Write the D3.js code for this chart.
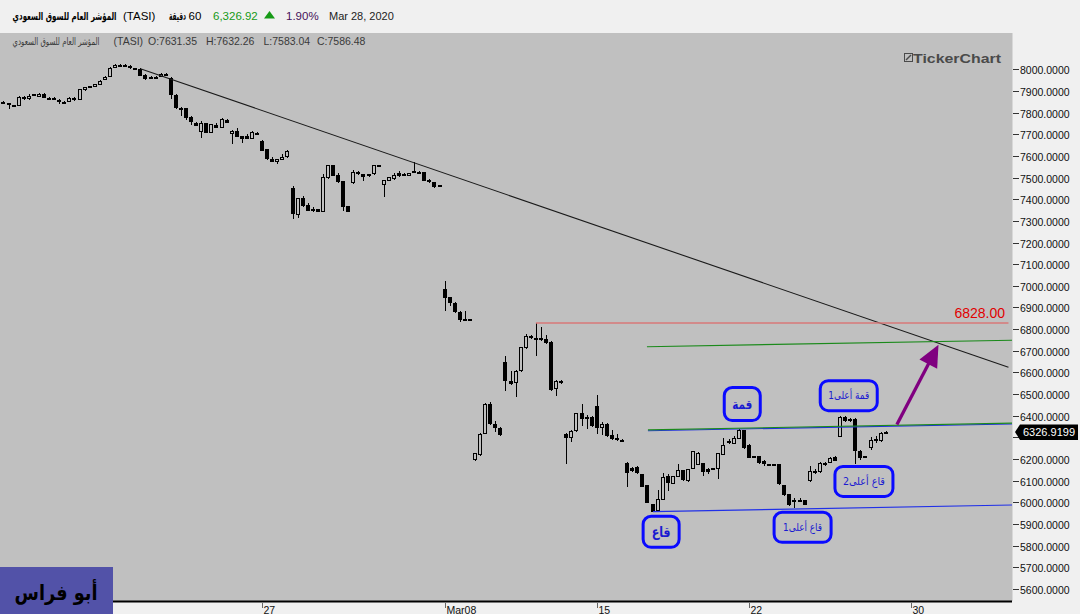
<!DOCTYPE html>
<html><head><meta charset="utf-8">
<script src="https://cdn.jsdelivr.net/npm/d3@7"></script>
<style>body{margin:0;background:#f0f0f0;overflow:hidden}svg{display:block}</style>
</head><body><svg id="c" width="1080" height="614"></svg>
<script>
// ---- data (60-minute bars, TASI) ----
const open = [7848,7845,7836,7831,7874,7863,7884,7872,7888,7868,7867,7860,7851,7849,7869,7860,7906,7923,7920,7929,
7951,7965,8006,8021,8021,8017,8006,8003,7972,7955,7966,7966,7980,7962,7883,7822,7819,7780,7754,7711,
7750,7708,7745,7731,7768,7702,7717,7691,7690,7680,7708,7670,7631.35,7585,7573,7582,7593,7450,7327,7404,
7375,7355,7355,7343,7499,7558,7512,7484,7369,7473,7525,7515,7505,7515,7558,7464,7485,7495,7519,7518,
7509,7531,7528,7524,7490,7479,7466,6986,6948,6922,6880,6846,6846,6195,6221,6317,6455,6360,6344,6648,
6562,6552,6605,6711,6770,6760,6760,6754,6742,6522,6562,6318,6298,6329,6413,6384,6396,6443,6343,6364,
6310,6297,6290,6183,6161,6165,6129,6078,5992,5959,6011,6123,6086,6118,6149,6097,6155,6173,6180,6155,
6152,6152,6221,6284,6270,6293,6333,6267,6213,6213,6192,6175,6175,6175,6078,6038,6009,6010,6010,6098,
6143,6139,6183,6183,6210,6303,6396,6375,6386,6237,6213,6252,6293,6283,6323];
const high = [7852,7846,7837,7877,7876,7885,7886,7892,7890,7872,7870,7862,7852,7870,7870,7910,7920,7925,7932,7950,
7967,8010,8026,8023,8023,8021,8007,8005,7977,7968,7967,7984,7981,7964,7885,7824,7821,7783,7756,7762,
7752,7748,7750,7774,7770,7719,7728,7693,7703,7714,7709,7672,7632.26,7596,7586,7607,7627,7461,7405,7415,
7381,7366,7357,7516,7560,7560,7522,7486,7371,7535,7532,7517,7518,7560,7559,7490,7503,7519,7530,7520,
7523,7570,7530,7526,7492,7481,7467,7023,6950,6924,6882,6885,6848,6228,6322,6457,6463,6378,6346,6677,
6608,6610,6719,6779,6772,6828,6811,6774,6744,6567,6564,6320,6332,6415,6456,6403,6398,6498,6373,6366,
6332,6318,6291,6185,6163,6167,6131,6080,5994,6055,6137,6129,6124,6178,6151,6154,6236,6231,6182,6157,
6159,6228,6297,6294,6306,6341,6335,6269,6215,6215,6194,6176,6176,6177,6080,6040,6021,6019,6012,6170,
6152,6187,6185,6209,6212,6398,6398,6388,6388,6241,6215,6303,6306,6323,6328];
const low = [7840,7816,7832,7829,7860,7860,7880,7870,7866,7860,7858,7840,7846,7847,7853,7858,7898,7918,7918,7927,
7949,7963,8004,8018,8018,8003,8003,7971,7950,7953,7954,7964,7973,7863,7817,7783,7765,7745,7737,7684,
7706,7706,7727,7729,7751,7653,7686,7660,7676,7678,7703,7622,7583.04,7571,7561,7580,7591,7310,7312,7366,
7344,7340,7340,7341,7495,7506,7476,7346,7341,7471,7513,7485,7503,7513,7551,7412,7483,7488,7503,7508,
7507,7519,7519,7483,7476,7453,7456,6882,6905,6875,6831,6838,6838,6193,6216,6315,6357,6324,6308,6513,
6544,6486,6603,6709,6755,6677,6744,6732,6516,6490,6548,6177,6278,6327,6352,6337,6350,6318,6310,6304,
6290,6285,6282,6072,6141,6129,6070,5997,5954,5956,6009,6051,6084,6116,6098,6095,6152,6171,6124,6129,
6150,6106,6219,6270,6268,6291,6247,6204,6203,6178,6170,6169,6169,6081,6030,5983,5976,6003,5987,6096,
6132,6137,6170,6181,6190,6301,6373,6373,6175,6198,6208,6244,6275,6281,6320];
const close = [7842,7834,7834,7874,7865,7879,7882,7888,7868,7862,7861,7849,7848,7868,7856,7908,7918,7920,7930,7948,
7965,8008,8021,8019,8019,8008,8004,7971,7954,7966,7960,7980,7974,7883,7819,7814,7773,7757,7739,7750,
7708,7746,7731,7770,7753,7717,7688,7680,7678,7710,7705,7624,7586.48,7573,7584,7593,7624,7330,7404,7369,
7346,7346,7343,7501,7558,7508,7481,7366,7343,7524,7515,7504,7516,7558,7552,7487,7501,7511,7508,7509,
7521,7522,7522,7485,7478,7455,7458,6942,6920,6877,6840,6840,6840,6226,6318,6455,6360,6343,6310,6559,
6547,6608,6717,6770,6757,6754,6751,6734,6518,6561,6550,6296,6330,6413,6384,6396,6352,6343,6364,6306,
6292,6287,6283,6137,6143,6134,6072,5999,5956,6014,6118,6088,6122,6149,6103,6152,6235,6229,6140,6140,
6158,6226,6264,6272,6298,6336,6249,6206,6205,6180,6175,6171,6171,6083,6032,5986,6005,6005,5989,6144,
6139,6183,6172,6207,6192,6396,6375,6386,6237,6206,6210,6290,6286,6321,6326.92];

const yTickValues = [5600,5700,5800,5900,6000,6100,6200,6300,6400,6500,6600,6700,6800,6900,7000,7100,7200,7300,7400,7500,7600,7700,7800,7900,8000];
const xTickIndex = [51,87,117,147,179];
const xTickLabels = ["27","Mar08","15","22","30"];

const lastPrice = 6326.9199;
const resistance = 6828;
const trendLine = [[27,8003],[198.2,6624]];
const greenUpper = [[126.9,6719],[198.9,6749]];
const channelTopBlue = [[127.1,6331],[198.9,6362]];
const channelTopGreen = [[127.1,6335],[198.9,6366]];
const channelBottom = [[128.1,5957],[198.9,5988]];
const arrowPts = [[176.2,6360],[184.4,6728]];
const annoLabels = ["قمة","قمة أعلى1","قاع","قاع أعلى1","قاع أعلى2"];
const annoIndex = [145.7,166.7,129.7,157.6,169.7];
const annoValue = [6454,6493,5864,5885,6097];
// box / text sizes in px (style)
const annoStyle = [
  {w:36,h:33,fs:13,bold:true,tl:20},
  {w:57,h:30,fs:11,bold:false,tl:41},
  {w:36,h:31,fs:14,bold:true,tl:19},
  {w:57,h:30,fs:11,bold:false,tl:39},
  {w:58,h:30,fs:11,bold:false,tl:42}
];

// ---- layout ----
const svg = d3.select("#c");
const PL = 0, PR = 1012.5, PT = 33, PB = 601;
const x = d3.scaleLinear().domain([-0.69, 198.9]).range([PL, 1012]);
const y = d3.scaleLinear().domain([5600, 8000]).range([589.0, 69.3]);
const font = "'Liberation Sans', Arial, sans-serif";
const afont = "'DejaVu Sans', 'Noto Sans', sans-serif";

// Arabic text fitted horizontally to a target width (DejaVu Arabic is wider than Tahoma)
function arText(cx, yy, txt, size, width, bold, fill){
  const g = svg.append("g");
  const t = g.append("text").attr("x",0).attr("y",0).attr("text-anchor","middle")
    .attr("font-family",afont).attr("font-size",size).attr("font-weight",bold?"bold":"normal")
    .attr("fill",fill).text(txt);
  const w = t.node().getComputedTextLength() || width;
  g.attr("transform",`translate(${cx},${yy}) scale(${width/w},1)`);
  return t;
}

svg.append("rect").attr("width",1080).attr("height",614).attr("fill","#f0f0f0");
svg.append("rect").attr("x",PL).attr("y",PT).attr("width",PR-PL).attr("height",PB-PT).attr("fill","#c0c0c0");

// header
const hy = 19.5;
arText(64.5, hy, "المؤشر العام للسوق السعودي", 11, 104, true, "#000");
svg.append("text").attr("x",123).attr("y",hy).attr("font-family",font).attr("font-size",11.5).attr("fill","#000").text("(TASI)");
arText(177.5, hy, "دقيقة", 11, 17, true, "#000");
svg.append("text").attr("x",188.5).attr("y",hy).attr("font-family",font).attr("font-size",11.5).attr("fill","#000").text("60");
svg.append("text").attr("x",213).attr("y",hy).attr("font-family",font).attr("font-size",11.5).attr("fill","#169a16").text("6,326.92");
svg.append("path").attr("d","M264,18.5 L269.5,11 L275,18.5 Z").attr("fill","#169a16");
svg.append("text").attr("x",286).attr("y",hy).attr("font-family",font).attr("font-size",11.5).attr("fill","#45105a").text("1.90%");
svg.append("text").attr("x",329).attr("y",hy).attr("font-family",font).attr("font-size",11).attr("fill","#222").text("Mar 28, 2020");

// sub header (OHLC of hovered bar)
const sy = 44.5, sc = "#3a3a3a";
arText(56, sy, "المؤشر العام للسوق السعودي", 10, 87, false, sc);
svg.append("text").attr("x",113.5).attr("y",sy).attr("font-family",font).attr("font-size",10.5).attr("fill",sc).text("(TASI)");
[["O:",open[52]],["H:",high[52]],["L:",low[52]],["C:",close[52]]].forEach((p,k)=>{
  svg.append("text").attr("x",[148,206,263.5,317][k]).attr("y",sy).attr("font-family",font)
    .attr("font-size",10.5).attr("fill",sc).text(p[0]+d3.format(".2f")(p[1]));
});

// watermark
svg.append("rect").attr("x",904.5).attr("y",53.5).attr("width",8).attr("height",8).attr("fill","none").attr("stroke","#4a4a4a");
svg.append("path").attr("d","M906,60 L911,55").attr("stroke","#4a4a4a").attr("stroke-width",1.5);
svg.append("text").attr("x",913).attr("y",62.5).attr("font-family",font).attr("font-size",13.5).attr("font-weight","bold")
  .attr("fill","#4a4a4a").attr("textLength",88).attr("lengthAdjust","spacingAndGlyphs").text("TickerChart");

// y axis
const lyTag = Math.round(y(lastPrice));
const ya = svg.append("g");
yTickValues.forEach(v=>{
  const yy = Math.round(y(v))+0.5;
  ya.append("line").attr("x1",1013).attr("x2",1019).attr("y1",yy).attr("y2",yy).attr("stroke","#333");
  if (Math.abs(yy - lyTag) < 10) return; // hidden behind last-price tag
  ya.append("text").attr("x",1020).attr("y",yy+4).attr("font-family",font).attr("font-size",10.5).attr("fill","#111")
    .text(d3.format(".4f")(v));
});

// x axis
svg.append("line").attr("x1",0).attr("x2",1012).attr("y1",601.5).attr("y2",601.5).attr("stroke","#000").attr("stroke-width",2);
xTickIndex.forEach((ix,k)=>{
  const xx = Math.round(x(ix))+0.5;
  svg.append("line").attr("x1",xx).attr("x2",xx).attr("y1",603).attr("y2",608).attr("stroke","#666");
  svg.append("text").attr("x",xx+1).attr("y",613.5).attr("font-family",font).attr("font-size",10.5).attr("fill","#111").text(xTickLabels[k]);
});

// candles
const data = open.map((o,i)=>({i,o,h:high[i],l:low[i],c:close[i]}));
const cg = svg.append("g").attr("shape-rendering","crispEdges");
cg.selectAll("line.w").data(data).join("line").attr("class","w")
  .attr("x1",d=>Math.round(x(d.i))+0.5).attr("x2",d=>Math.round(x(d.i))+0.5)
  .attr("y1",d=>y(d.h)).attr("y2",d=>y(d.l)).attr("stroke","#000");
cg.selectAll("rect.b").data(data).join("rect").attr("class","b")
  .each(function(d){
    const X = Math.round(x(d.i));
    const top = Math.round(y(Math.max(d.o,d.c))), bot = Math.round(y(Math.min(d.o,d.c)));
    const hh = Math.max(bot-top, 2);
    const s = d3.select(this);
    if (d.c > d.o) {
      s.attr("x",X-1.5).attr("y",top+0.5).attr("width",3).attr("height",Math.max(hh-1,1))
       .attr("fill","#c0c0c0").attr("stroke","#000");
    } else {
      s.attr("x",X-2).attr("y",top).attr("width",4).attr("height",hh).attr("fill","#000");
    }
  });

// drawn lines
const ln = d3.line().x(d=>x(d[0])).y(d=>y(d[1]));
svg.append("path").attr("d",ln(trendLine)).attr("stroke","#1a1a1a").attr("stroke-width",1.1).attr("fill","none");
svg.append("path").attr("d",ln([[105,resistance],[198.2,resistance]])).attr("stroke","#d87878").attr("stroke-width",1.5).attr("fill","none");
svg.append("text").attr("x",1005).attr("y",y(resistance)-5).attr("text-anchor","end").attr("font-family",font)
  .attr("font-size",14).attr("fill","#e00000").text(d3.format(".2f")(resistance));
svg.append("path").attr("d",ln(greenUpper)).attr("stroke","#1b8a1b").attr("stroke-width",1.1).attr("fill","none");
svg.append("path").attr("d",ln(channelTopBlue)).attr("stroke","#2030e0").attr("stroke-width",1.1).attr("fill","none");
svg.append("path").attr("d",ln(channelTopGreen)).attr("stroke","#1b8a1b").attr("stroke-width",1.1).attr("fill","none");
svg.append("path").attr("d",ln(channelBottom)).attr("stroke","#2030e8").attr("stroke-width",1.2).attr("fill","none");

// purple arrow
const a0 = [x(arrowPts[0][0]), y(arrowPts[0][1])], a1 = [x(arrowPts[1][0]), y(arrowPts[1][1])];
const ang = Math.atan2(a1[1]-a0[1], a1[0]-a0[0]);
const hl = 22, hw = 10;
const bx = a1[0]-hl*Math.cos(ang), by = a1[1]-hl*Math.sin(ang);
svg.append("line").attr("x1",a0[0]).attr("y1",a0[1]).attr("x2",bx+4*Math.cos(ang)).attr("y2",by+4*Math.sin(ang))
  .attr("stroke","#800080").attr("stroke-width",3.3);
svg.append("path").attr("d",`M${a1[0]},${a1[1]} L${bx+hw*Math.sin(ang)},${by-hw*Math.cos(ang)} L${bx-hw*Math.sin(ang)},${by+hw*Math.cos(ang)} Z`)
  .attr("fill","#800080");

// annotations
annoLabels.forEach((t,k)=>{
  const st = annoStyle[k];
  const cx = x(annoIndex[k]), cy = y(annoValue[k]);
  svg.append("rect").attr("x",cx-st.w/2).attr("y",cy-st.h/2).attr("width",st.w).attr("height",st.h)
    .attr("rx",8).attr("fill","none").attr("stroke","#0a0aff").attr("stroke-width",3);
  arText(cx, cy+st.fs*0.35, t, st.fs, st.tl, st.bold, "#1a1ad0");
});

// last price tag
const ly = lyTag;
svg.append("path").attr("d",`M1015,${ly} L1020,${ly-7.5} L1078,${ly-7.5} L1078,${ly+8} L1020,${ly+8} Z`).attr("fill","#000");
svg.append("text").attr("x",1023).attr("y",ly+4).attr("font-family",font).attr("font-size",11).attr("fill","#fff")
  .text(d3.format(".4f")(lastPrice));

// author box
svg.append("rect").attr("x",0).attr("y",567).attr("width",113).attr("height",47).attr("fill","#5252a8");
arText(56, 600, "أبو فراس", 21, 83, true, "#000");
</script></body></html>
